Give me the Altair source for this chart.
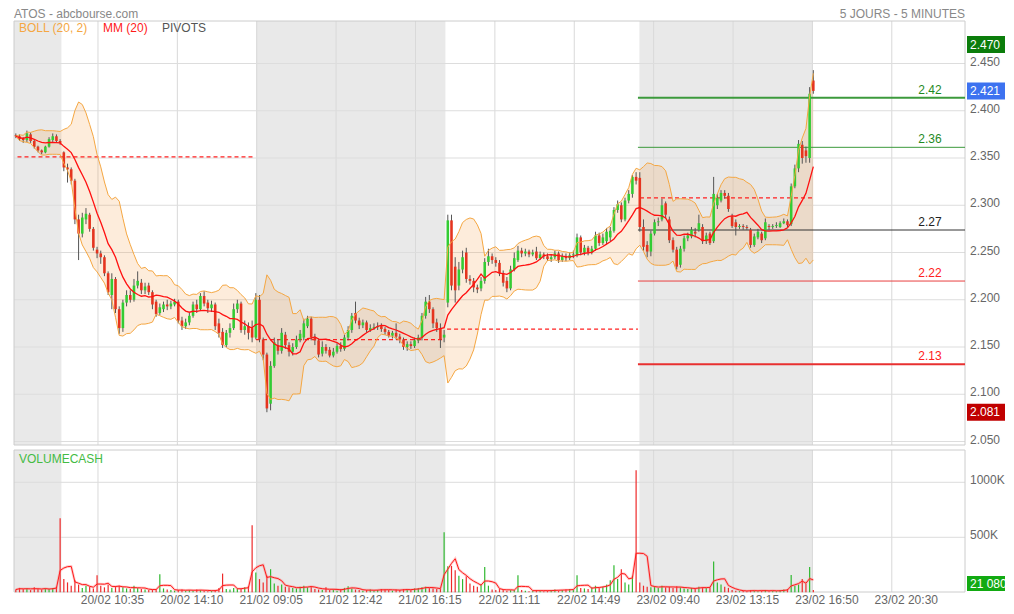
import altair as alt
import pandas as pd
import numpy as np

# ---- 10-minute candles (EUR) ----
OPEN = [2.374, 2.373, 2.370, 2.369, 2.375, 2.368, 2.362, 2.358, 2.356, 2.362, 2.369, 2.373, 2.368,
        2.356, 2.340, 2.338, 2.326, 2.285, 2.270, 2.285, 2.290, 2.275, 2.253, 2.249, 2.245, 2.228, 2.205,
        2.222, 2.190, 2.170, 2.197, 2.205, 2.200, 2.215, 2.218, 2.210, 2.215, 2.208, 2.198, 2.186, 2.190,
        2.195, 2.193, 2.195, 2.198, 2.178, 2.172, 2.176, 2.183, 2.195, 2.190, 2.204, 2.197, 2.191, 2.195,
        2.175, 2.166, 2.152, 2.165, 2.170, 2.190, 2.196, 2.168, 2.172, 2.170,
        2.160, 2.200, 2.158, 2.142, 2.090, 2.130, 2.152, 2.146, 2.163, 2.152, 2.145, 2.150, 2.158, 2.160,
        2.172, 2.180, 2.160, 2.157, 2.143, 2.150, 2.147, 2.141, 2.145, 2.151, 2.148, 2.160, 2.168, 2.186,
        2.178, 2.173, 2.176, 2.168, 2.170, 2.171, 2.172, 2.169, 2.166, 2.162, 2.165, 2.161, 2.158, 2.150,
        2.153, 2.151, 2.157, 2.160, 2.183, 2.198, 2.190, 2.176, 2.170, 2.160,
        2.197, 2.284, 2.235, 2.215, 2.232, 2.250, 2.222, 2.220, 2.213, 2.212, 2.220, 2.240, 2.246, 2.242,
        2.239, 2.228, 2.220, 2.212, 2.232, 2.242, 2.252, 2.249, 2.251, 2.248, 2.251, 2.244, 2.248, 2.246,
        2.243, 2.245, 2.249, 2.242, 2.246, 2.244, 2.247, 2.247, 2.266, 2.250, 2.255, 2.250, 2.254, 2.268,
        2.260, 2.262, 2.266, 2.273, 2.295, 2.300, 2.285, 2.305, 2.312, 2.330,
        2.329, 2.277, 2.258, 2.251, 2.270, 2.282, 2.285, 2.302, 2.285, 2.263, 2.253, 2.237, 2.254, 2.265,
        2.267, 2.272, 2.274, 2.277, 2.262, 2.270, 2.262, 2.300, 2.305, 2.313, 2.310, 2.288, 2.282, 2.277,
        2.278, 2.277, 2.274, 2.258, 2.266, 2.270, 2.265, 2.278, 2.277, 2.278, 2.277, 2.281, 2.283, 2.280,
        2.320, 2.339, 2.364, 2.358, 2.350, 2.432]
HIGH = [2.376, 2.375, 2.372, 2.379, 2.377, 2.369, 2.363, 2.359, 2.363, 2.372, 2.376, 2.375, 2.370,
        2.357, 2.344, 2.340, 2.328, 2.290, 2.292, 2.297, 2.292, 2.277, 2.256, 2.252, 2.247, 2.230, 2.228,
        2.224, 2.193, 2.200, 2.210, 2.210, 2.222, 2.230, 2.222, 2.218, 2.218, 2.210, 2.200, 2.196, 2.198,
        2.200, 2.199, 2.201, 2.200, 2.182, 2.180, 2.186, 2.198, 2.200, 2.207, 2.209, 2.200, 2.199, 2.197,
        2.180, 2.170, 2.168, 2.175, 2.196, 2.200, 2.198, 2.178, 2.176, 2.178,
        2.207, 2.205, 2.160, 2.144, 2.135, 2.160, 2.158, 2.170, 2.166, 2.155, 2.154, 2.162, 2.168, 2.180,
        2.183, 2.182, 2.164, 2.159, 2.156, 2.153, 2.150, 2.149, 2.154, 2.155, 2.163, 2.172, 2.186, 2.198,
        2.181, 2.179, 2.178, 2.174, 2.175, 2.176, 2.175, 2.171, 2.168, 2.167, 2.175, 2.164, 2.160, 2.156,
        2.156, 2.160, 2.163, 2.186, 2.203, 2.205, 2.192, 2.180, 2.175, 2.168,
        2.290, 2.290, 2.245, 2.240, 2.252, 2.255, 2.226, 2.223, 2.216, 2.224, 2.244, 2.254, 2.249, 2.245,
        2.242, 2.231, 2.224, 2.236, 2.250, 2.257, 2.255, 2.254, 2.253, 2.253, 2.256, 2.251, 2.250, 2.249,
        2.248, 2.252, 2.251, 2.249, 2.249, 2.250, 2.252, 2.270, 2.268, 2.258, 2.257, 2.257, 2.272, 2.271,
        2.270, 2.276, 2.277, 2.298, 2.305, 2.303, 2.308, 2.316, 2.332, 2.335,
        2.335, 2.285, 2.262, 2.273, 2.285, 2.287, 2.307, 2.304, 2.288, 2.266, 2.256, 2.257, 2.268, 2.271,
        2.277, 2.276, 2.290, 2.280, 2.271, 2.272, 2.330, 2.312, 2.316, 2.316, 2.313, 2.291, 2.285, 2.280,
        2.280, 2.279, 2.276, 2.270, 2.275, 2.272, 2.286, 2.280, 2.280, 2.282, 2.283, 2.286, 2.285, 2.323,
        2.343, 2.369, 2.368, 2.362, 2.425, 2.443]
LOW = [2.371, 2.368, 2.366, 2.367, 2.366, 2.360, 2.356, 2.354, 2.355, 2.361, 2.367, 2.366, 2.364,
       2.336, 2.324, 2.322, 2.280, 2.242, 2.266, 2.280, 2.272, 2.252, 2.244, 2.238, 2.225, 2.205, 2.190,
       2.186, 2.164, 2.166, 2.193, 2.197, 2.198, 2.212, 2.206, 2.206, 2.205, 2.190, 2.182, 2.184, 2.187,
       2.189, 2.190, 2.193, 2.175, 2.168, 2.169, 2.173, 2.181, 2.186, 2.188, 2.193, 2.186, 2.187, 2.168,
       2.160, 2.149, 2.150, 2.160, 2.168, 2.186, 2.165, 2.163, 2.158, 2.155,
       2.158, 2.155, 2.136, 2.081, 2.083, 2.128, 2.142, 2.143, 2.148, 2.140, 2.141, 2.148, 2.155, 2.157,
       2.170, 2.157, 2.152, 2.139, 2.140, 2.143, 2.139, 2.139, 2.143, 2.145, 2.146, 2.157, 2.165, 2.175,
       2.169, 2.170, 2.165, 2.166, 2.168, 2.168, 2.166, 2.163, 2.160, 2.159, 2.158, 2.154, 2.147, 2.146,
       2.148, 2.149, 2.154, 2.157, 2.180, 2.186, 2.170, 2.166, 2.149, 2.155,
       2.192, 2.210, 2.197, 2.210, 2.228, 2.218, 2.216, 2.208, 2.207, 2.209, 2.217, 2.236, 2.238, 2.235,
       2.225, 2.214, 2.208, 2.210, 2.230, 2.240, 2.245, 2.246, 2.245, 2.246, 2.242, 2.242, 2.243, 2.241,
       2.240, 2.243, 2.239, 2.240, 2.241, 2.242, 2.244, 2.245, 2.247, 2.247, 2.247, 2.248, 2.252, 2.257,
       2.258, 2.259, 2.262, 2.271, 2.292, 2.282, 2.283, 2.302, 2.308, 2.322,
       2.272, 2.252, 2.245, 2.246, 2.268, 2.278, 2.283, 2.286, 2.260, 2.250, 2.232, 2.234, 2.251, 2.262,
       2.265, 2.266, 2.272, 2.259, 2.259, 2.258, 2.260, 2.296, 2.303, 2.307, 2.293, 2.276, 2.268, 2.275,
       2.274, 2.274, 2.255, 2.256, 2.264, 2.260, 2.263, 2.274, 2.275, 2.276, 2.276, 2.280, 2.277, 2.278,
       2.318, 2.335, 2.344, 2.345, 2.345, 2.418]
CLOSE = [2.373, 2.370, 2.369, 2.376, 2.368, 2.362, 2.358, 2.356, 2.362, 2.370, 2.373, 2.368, 2.366,
         2.340, 2.338, 2.326, 2.285, 2.270, 2.287, 2.291, 2.275, 2.255, 2.249, 2.245, 2.228, 2.208, 2.222,
         2.190, 2.170, 2.197, 2.205, 2.200, 2.215, 2.220, 2.210, 2.214, 2.208, 2.195, 2.185, 2.192, 2.195,
         2.193, 2.196, 2.198, 2.178, 2.172, 2.176, 2.183, 2.195, 2.190, 2.204, 2.196, 2.191, 2.195, 2.172,
         2.165, 2.152, 2.165, 2.170, 2.190, 2.196, 2.168, 2.172, 2.165, 2.160,
         2.200, 2.158, 2.142, 2.085, 2.130, 2.155, 2.146, 2.165, 2.152, 2.145, 2.150, 2.158, 2.164, 2.175,
         2.180, 2.160, 2.157, 2.142, 2.150, 2.146, 2.141, 2.145, 2.151, 2.148, 2.160, 2.168, 2.183, 2.178,
         2.173, 2.176, 2.168, 2.170, 2.171, 2.172, 2.169, 2.166, 2.162, 2.165, 2.161, 2.158, 2.150, 2.153,
         2.151, 2.157, 2.160, 2.183, 2.198, 2.190, 2.175, 2.170, 2.158, 2.163,
         2.284, 2.215, 2.210, 2.232, 2.245, 2.222, 2.220, 2.213, 2.211, 2.220, 2.240, 2.246, 2.242, 2.239,
         2.228, 2.218, 2.212, 2.232, 2.244, 2.252, 2.249, 2.251, 2.248, 2.250, 2.244, 2.248, 2.246, 2.243,
         2.245, 2.249, 2.242, 2.246, 2.244, 2.247, 2.248, 2.266, 2.250, 2.255, 2.250, 2.254, 2.268, 2.260,
         2.266, 2.272, 2.273, 2.295, 2.301, 2.285, 2.305, 2.312, 2.330, 2.326,
         2.277, 2.256, 2.251, 2.270, 2.282, 2.283, 2.300, 2.290, 2.263, 2.253, 2.235, 2.254, 2.265, 2.268,
         2.274, 2.270, 2.281, 2.262, 2.268, 2.260, 2.312, 2.308, 2.313, 2.310, 2.296, 2.278, 2.277, 2.278,
         2.277, 2.276, 2.258, 2.267, 2.272, 2.263, 2.282, 2.277, 2.278, 2.279, 2.281, 2.283, 2.279, 2.320,
         2.339, 2.365, 2.350, 2.352, 2.418, 2.421]
VOLUME_K = [25, 40, 30, 35, 20, 45, 30, 25, 35, 30, 40, 50, 673,
            120, 90, 60, 110, 70, 40, 60, 50, 35, 155,
            60, 45, 70, 40, 55, 60, 45, 35, 30, 60, 40, 30, 25,
            20, 25, 30, 164, 35, 25, 20, 15, 20, 25,
            15, 20, 15, 25, 20, 15, 10, 15, 20, 40, 170, 30, 25, 40, 35, 30, 45, 55,
            610,
            180, 120, 90, 150, 210, 80, 60, 70, 50, 45, 40, 35, 50, 60, 45, 55,
            30, 25, 20, 45, 20, 25, 15, 30, 40, 55, 35, 25, 20, 15, 20, 25, 15, 20, 30, 25,
            20, 15, 25, 20, 30, 25, 20, 35, 40, 45, 50, 40, 35, 30, 30, 545,
            236, 240, 200, 150, 120, 145, 80, 60, 50, 70, 230, 60,
            25, 20, 30, 25, 15, 20, 20, 155, 20, 15, 10, 15, 20, 15, 10, 15, 20, 25, 15, 20, 25, 30, 25,
            155,
            40, 35, 30, 45, 60, 40, 50, 70, 110,
            245, 120, 210, 90, 70, 150, 1110,
            90, 60, 50, 45, 55, 40, 60, 45, 50, 40, 55, 45, 35, 30, 40, 35, 50, 45, 40, 45,
            280,
            90, 70, 50, 40, 20, 15, 10, 15, 10, 20, 15, 10, 15, 20, 10, 15, 10, 20, 25, 30,
            157, 60, 70, 120, 80, 230, 21]

TICK_SLOTS = [19, 62, 105, 148, 191, 234, 277, 320, 363, 406, 449]
TICK_LABELS = ["20/02 10:35", "20/02 14:10", "21/02 09:05", "21/02 12:42", "21/02 16:15",
               "22/02 11:11", "22/02 14:49", "23/02 09:40", "23/02 13:15", "23/02 16:50", "23/02 20:30"]
PRICE_TICKS = [2.05, 2.10, 2.15, 2.20, 2.25, 2.30, 2.35, 2.40, 2.45]
VOL_TICKS = [500000, 1000000]
VOL_TICK_LABELS = ["500K", "1000K"]
SHADE_START = [-26.5, 104.6, 312.3]
SHADE_END = [-0.8, 207.2, 406.3]
PIVOT_VALUES = [2.4138, 2.3613, 2.2738, 2.2198, 2.1317]
PIVOT_LABELS = ["2.42", "2.36", "2.27", "2.22", "2.13"]
PIVOT_COLORS = ["#3c9a3c", "#3c9a3c", "#333333", "#e84040", "#e83030"]
PIVOT_TEXT_COLORS = ["#1f8a1f", "#1f8a1f", "#222222", "#ff2020", "#ff2020"]
PIVOT_WIDTHS = [2, 1, 1, 1, 2]
PIVOT_FROM, PIVOT_TO = 311.5, 488.66
DAY_REF_PRICE = [2.3511, 2.1579, 2.1690, 2.3077]
DAY_REF_FROM = [-24.6, 104.6, 208.1, 312.6]
DAY_REF_TO = [103.5, 206.4, 311.5, 406.0]
BOX_PRICES = [2.470, 2.421, 2.081]
BOX_LABELS = ["2.470", "2.421", "2.081"]
BOX_COLORS = ["#0b7d0b", "#3d72f0", "#c00000"]
LAST_VOLUME_LABEL = "21 080"

n = len(CLOSE)
assert len(OPEN) == n and len(HIGH) == n and len(LOW) == n and len(VOLUME_K) == n

GREEN, RED = "#33cc33", "#e5341f"
df = pd.DataFrame({"o": OPEN, "h": HIGH, "l": LOW, "c": CLOSE, "v": np.array(VOLUME_K) * 1000.0})
df["s"] = 2 * np.arange(n) - 25.5          # slot position (5-minute slots)
df["x1"] = df["s"] - 0.7
df["x2"] = df["s"] + 0.7
df["up"] = df["c"] >= df["o"]
df["col"] = np.where(df["up"], GREEN, RED)
df["vcol"] = np.where(df["up"], "#2fb82f", "#ee2a2a")
df["ma"] = df["c"].rolling(10, min_periods=1).mean()
sd = df["c"].rolling(10, min_periods=1).std(ddof=0).fillna(0)
df["bu"] = df["ma"] + 2 * sd
df["bl"] = df["ma"] - 2 * sd
df["vma"] = df["v"].rolling(4, min_periods=1).mean()
df["v0"] = 0.0
mid = (df["o"] + df["c"]) / 2
half = np.maximum((df["o"] - df["c"]).abs() / 2, 0.00045)
df["btop"] = mid + half
df["bbot"] = mid - half

W, H = 957, 584
RIGHT_PAD = 41
P_TOP, P_BOT, V_TOP, V_BOT = 13, 437, 442, 584
XS = alt.Scale(domain=[-29.74, 488.66], nice=False, zero=False)
PS = alt.Scale(domain=[2.05, 2.45], range=[433.5, 55.5], nice=False, zero=False)
VS = alt.Scale(domain=[0, 1000000], range=[584.3, 474.3], nice=False, zero=False)
FONT = "Liberation Sans"
BOX_X1, BOX_X2 = 959, W + RIGHT_PAD - 1

label_expr = "[" + ",".join("'%s'" % t for t in TICK_LABELS) + "][round((datum.value - 19) / 43)]"
X_AXIS = alt.Axis(values=TICK_SLOTS, labelExpr=label_expr, title=None, grid=False, domain=False,
                  ticks=False, tickSize=0, labelPadding=2, labelOffset=14, labelFontSize=12,
                  labelColor="#666666", labelFont=FONT, labelOverlap=False, labelFlush=False,
                  labelBound=False)


def X(f):
    return alt.X(f, type="quantitative", scale=XS, axis=X_AXIS)


def PY(f):
    return alt.Y(f, type="quantitative", scale=PS, axis=None)


def VY(f):
    return alt.Y(f, type="quantitative", scale=VS, axis=None)


one = pd.DataFrame({"a": [0]})
shade = pd.DataFrame({"s1": SHADE_START, "s2": SHADE_END})
ticks = pd.DataFrame({"s": TICK_SLOTS})
pgrid = pd.DataFrame({"p": PRICE_TICKS, "lab": ["%.3f" % p for p in PRICE_TICKS]})
vgrid = pd.DataFrame({"v": VOL_TICKS, "lab": VOL_TICK_LABELS})
piv = pd.DataFrame({"p": PIVOT_VALUES, "lab": PIVOT_LABELS, "col": PIVOT_COLORS,
                    "tcol": PIVOT_TEXT_COLORS, "w": PIVOT_WIDTHS,
                    "s1": PIVOT_FROM, "s2": PIVOT_TO})
dref = pd.DataFrame({"p": DAY_REF_PRICE, "s1": DAY_REF_FROM, "s2": DAY_REF_TO})
boxes = pd.DataFrame({"p": BOX_PRICES, "lab": BOX_LABELS, "col": BOX_COLORS})

layers = []
# session shading + vertical grid
for y1, y2 in [(P_TOP, P_BOT), (V_TOP, V_BOT)]:
    layers.append(alt.Chart(shade).mark_rect(color="#e9e9e9").encode(
        x=X("s1"), x2="s2", y=alt.value(y1), y2=alt.value(y2)))
    layers.append(alt.Chart(ticks).mark_rule(color="#d9d9d9", strokeWidth=1).encode(
        x=X("s"), y=alt.value(y1), y2=alt.value(y2)))
layers.append(alt.Chart(pgrid).mark_rule(color="#dddddd", strokeWidth=1).encode(
    y=PY("p"), x=alt.value(6), x2=alt.value(W)))
layers.append(alt.Chart(vgrid).mark_rule(color="#dddddd", strokeWidth=1).encode(
    y=VY("v"), x=alt.value(6), x2=alt.value(W)))
# panel borders
for y1, y2 in [(P_TOP, P_BOT), (V_TOP, V_BOT)]:
    layers.append(alt.Chart(one).mark_rect(filled=False, color="#cccccc", strokeWidth=1).encode(
        x=alt.value(6), x2=alt.value(W), y=alt.value(y1), y2=alt.value(y2)))

base = alt.Chart(df)
layers.append(base.mark_area(color="#f5963a", opacity=0.18).encode(x=X("s"), y=PY("bl"), y2="bu"))
layers.append(alt.Chart(dref).mark_rule(color="#ff2020", strokeWidth=1.2, strokeDash=[4, 3]).encode(
    x=X("s1"), x2="s2", y=PY("p")))
layers.append(alt.Chart(piv).mark_rule().encode(
    x=X("s1"), x2="s2", y=PY("p"), color=alt.Color("col:N", scale=None),
    strokeWidth=alt.StrokeWidth("w:Q", scale=None)))
layers.append(base.mark_rule(color="#555555", strokeWidth=1).encode(x=X("s"), y=PY("l"), y2="h"))
layers.append(base.mark_rect().encode(x=X("x1"), x2="x2", y=PY("bbot"), y2="btop",
                                      color=alt.Color("col:N", scale=None)))
layers.append(base.mark_line(color="#f5a742", strokeWidth=1).encode(x=X("s"), y=PY("bu")))
layers.append(base.mark_line(color="#f5a742", strokeWidth=1).encode(x=X("s"), y=PY("bl")))
layers.append(base.mark_line(color="#ff1010", strokeWidth=1.3).encode(x=X("s"), y=PY("ma")))
# volume
layers.append(base.mark_rule(strokeWidth=1.2).encode(x=X("s"), y=VY("v0"), y2="v",
                                                      color=alt.Color("vcol:N", scale=None)))
layers.append(base.mark_line(color="#ff7070", strokeWidth=2.6, opacity=0.35).encode(x=X("s"), y=VY("vma")))
layers.append(base.mark_line(color="#ff1a1a", strokeWidth=1).encode(x=X("s"), y=VY("vma")))

# texts
txt = dict(font=FONT, fontSize=12)
layers.append(alt.Chart(piv).mark_text(align="center", baseline="middle", dy=-8, **txt).encode(
    x=alt.value(922), y=PY("p"), text="lab:N", color=alt.Color("tcol:N", scale=None)))
layers.append(alt.Chart(pgrid).mark_text(align="left", baseline="middle", dy=-2, color="#666666", **txt).encode(
    x=alt.value(962), y=PY("p"), text="lab:N"))
layers.append(alt.Chart(vgrid).mark_text(align="left", baseline="middle", dy=-2, color="#666666", **txt).encode(
    x=alt.value(962), y=VY("v"), text="lab:N"))
layers.append(alt.Chart(boxes).transform_calculate(
    ptop="datum.p + 8.5/945", pbot="datum.p - 8.5/945").mark_rect().encode(
    x=alt.value(BOX_X1), x2=alt.value(BOX_X2), y=PY("pbot:Q"), y2="ptop:Q",
    color=alt.Color("col:N", scale=None)))
layers.append(alt.Chart(boxes).mark_text(align="left", baseline="middle", color="white", **txt).encode(
    x=alt.value(962), y=PY("p"), text="lab:N"))
layers.append(alt.Chart(one).mark_rect(color="#12aa12").encode(
    x=alt.value(BOX_X1), x2=alt.value(BOX_X2), y=alt.value(568), y2=alt.value(583)))
layers.append(alt.Chart(one).mark_text(align="left", baseline="middle", color="white", text=LAST_VOLUME_LABEL,
                                       **txt).encode(x=alt.value(962), y=alt.value(575.5)))
for label, xpos, ypos, colr, align in [
        ("ATOS - abcbourse.com", 6, 1, "#888888", "left"),
        ("5 JOURS - 5 MINUTES", W, 1, "#888888", "right")]:
    layers.append(alt.Chart(one).mark_text(align=align, baseline="top", color=colr, text=label, **txt).encode(
        x=alt.value(xpos), y=alt.value(ypos)))
for label, xpos, ypos, colr in [
        ("BOLL (20, 2)", 11, 20, "#f5a742"),
        ("MM (20)", 95, 20, "#ff1a1a"),
        ("PIVOTS", 154, 20, "#555555"),
        ("VOLUMECASH", 11, 451, "#44bb44")]:
    layers.append(alt.Chart(one).mark_text(align="left", baseline="middle", color=colr, text=label, **txt).encode(
        x=alt.value(xpos), y=alt.value(ypos)))

chart = alt.layer(*layers).resolve_scale(y="independent").properties(
    width=W, height=H, background="white",
    autosize=alt.AutoSizeParams(type="none"),
    padding={"left": 0, "top": 0, "right": RIGHT_PAD, "bottom": 14}
).configure_view(stroke=None)

chart.save("out.html", embed_options={"renderer": "svg", "actions": False})
